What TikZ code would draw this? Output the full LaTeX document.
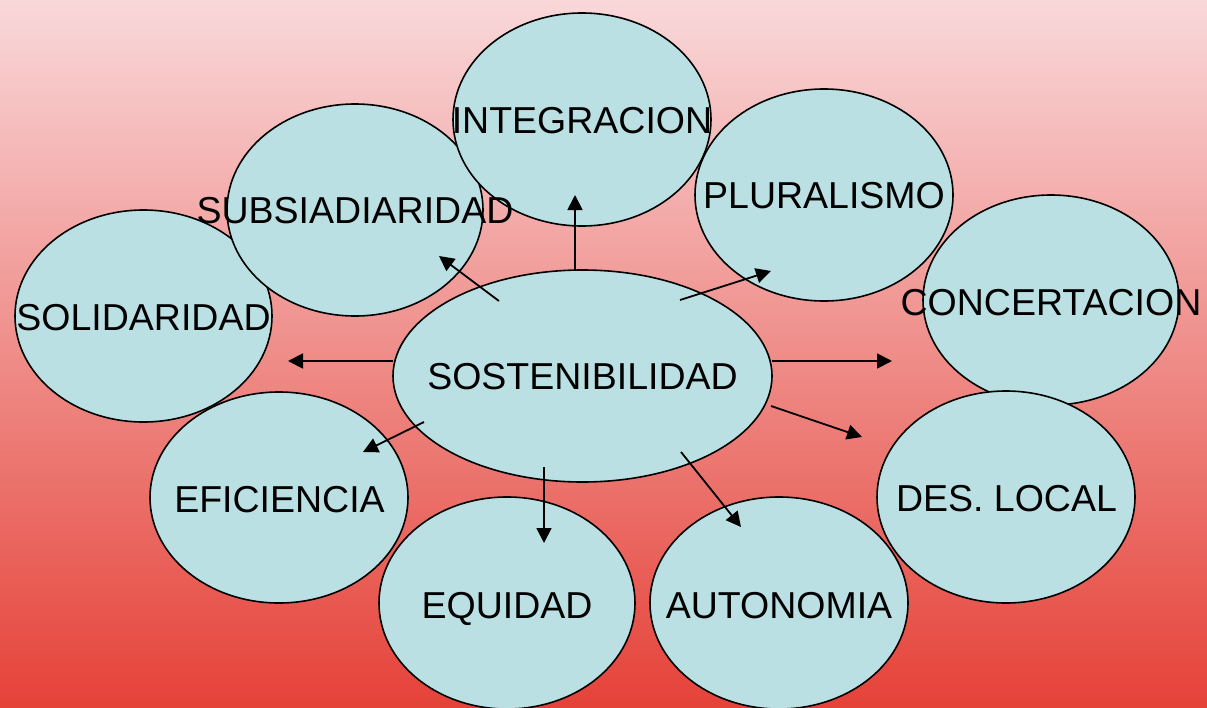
\documentclass[tikz,border=0pt]{standalone}
\usepackage{fontspec}
\setmainfont{Liberation Sans}
\usetikzlibrary{shapes.geometric,arrows.meta}
\definecolor{bgtop}{RGB}{249,216,218}
\definecolor{bgbot}{RGB}{229,66,56}
\definecolor{bubfill}{RGB}{187,224,227}
\begin{document}
\begin{tikzpicture}[x=1pt,y=-1pt,
  bub/.style={ellipse,draw=black,line width=1.6pt,fill=bubfill,inner sep=0pt,outer sep=0pt},
  lbl/.style={anchor=base,inner sep=0pt,font=\fontsize{37.5}{40}\selectfont},
  conn/.style={line width=1.8pt,-{Triangle[length=15pt,width=15pt]}}]
\useasboundingbox (0,0) rectangle (1207,707);
\shade[top color=bgtop,bottom color=bgbot] (0,0) rectangle (1207,707);

% bubbles
\node[bub,minimum width=257pt,minimum height=212pt] (solid)   at (143.5,316) {};
\node[bub,minimum width=256pt,minimum height=212pt] (subsi)   at (355,210) {};
\node[bub,minimum width=258pt,minimum height=213pt] (integ)   at (582,119.5) {};
\node[bub,minimum width=258pt,minimum height=212pt] (plural)  at (824,195) {};
\node[bub,minimum width=256pt,minimum height=210pt] (concert) at (1051,300) {};
\node[bub,minimum width=258pt,minimum height=212pt] (desloc)  at (1006,497) {};
\node[bub,minimum width=258pt,minimum height=211pt] (efic)    at (279,497.5) {};
\node[bub,minimum width=256pt,minimum height=212pt] (equid)   at (507,603) {};
\node[bub,minimum width=258pt,minimum height=212pt] (auton)   at (779,603) {};
\node[bub,minimum width=379pt,minimum height=212pt] (sost)    at (582.5,376) {};

% labels
\node[lbl] (tsolid)   at (143.5,330) {SOLIDARIDAD};
\node[lbl] (tsubsi)   at (355,223)   {SUBSIADIARIDAD};
\node[lbl] (tinteg)   at (582,133)   {INTEGRACION};
\node[lbl] (tplural)  at (824,208)   {PLURALISMO};
\node[lbl] (tconcert) at (1051,315)  {CONCERTACION};
\node[lbl] (tsost)    at (582.5,389) {SOSTENIBILIDAD};
\node[lbl] (tefic)    at (279.5,512) {EFICIENCIA};
\node[lbl] (tdesloc)  at (1006.5,511) {DES. LOCAL};
\node[lbl] (tequid)   at (507,618)   {EQUIDAD};
\node[lbl] (tauton)   at (779,618)   {AUTONOMIA};

% connector end points
\coordinate (s1) at (575,270);   \coordinate (e1) at (575,195);
\coordinate (s2) at (499,301);   \coordinate (e2) at (439,256);
\coordinate (s3) at (680,300);   \coordinate (e3) at (771,271);
\coordinate (s4) at (393,361);   \coordinate (e4) at (288,361);
\coordinate (s5) at (772,361);   \coordinate (e5) at (892,361);
\coordinate (s6) at (424,422);   \coordinate (e6) at (363,452);
\coordinate (s7) at (771,406);   \coordinate (e7) at (862,437);
\coordinate (s8) at (544,467);   \coordinate (e8) at (544,543);
\coordinate (s9) at (681,452);   \coordinate (e9) at (741,527);

\draw[conn] (s1) -- (e1);
\draw[conn] (s2) -- (e2);
\draw[conn] (s3) -- (e3);
\draw[conn] (s4) -- (e4);
\draw[conn] (s5) -- (e5);
\draw[conn] (s6) -- (e6);
\draw[conn] (s7) -- (e7);
\draw[conn] (s8) -- (e8);
\draw[conn] (s9) -- (e9);
\end{tikzpicture}
\end{document}
